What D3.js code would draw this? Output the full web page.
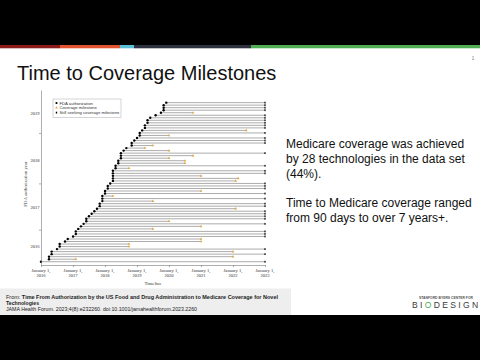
<!DOCTYPE html>
<html><head><meta charset="utf-8">
<script src="https://cdn.jsdelivr.net/npm/d3@7"></script>
<style>
html,body{margin:0;padding:0;background:#fff;}
svg{display:block;}
</style></head>
<body>
<svg id="c" width="480" height="360"></svg>
<script>
// ---- data (rows from top = latest authorization to bottom = earliest) ----
const authDates = [
"2019-12","2019-11","2019-11","2019-11","2019-10","2019-08","2019-06","2019-05","2019-05","2019-04",
"2019-04","2019-03","2019-02","2019-02","2019-01","2018-12","2018-11","2018-11","2018-09","2018-08",
"2018-07","2018-07","2018-07","2018-06","2018-06","2018-05","2018-05","2018-04","2018-04","2018-04",
"2018-04","2018-04","2018-03","2018-02","2018-02","2018-01","2018-01","2017-12","2017-12","2017-12",
"2017-11","2017-11","2017-10","2017-09","2017-08","2017-07","2017-06","2017-06","2017-05","2017-04",
"2017-03","2017-02","2017-02","2017-01","2016-11","2016-10","2016-08","2016-08","2016-07","2016-05",
"2016-05","2016-04","2016-04","2016-01"];
const coverageDates = [
null,null,null,null,"2020-10",null,null,null,null,null,
null,"2022-06",null,"2020-01",null,null,null,"2019-07","2019-04","2020-01",
null,"2020-10","2020-01","2020-07","2020-07",null,"2018-10",null,null,"2021-01",
"2022-03","2022-02",null,null,null,"2021-01",null,"2018-04",null,"2019-07",
null,null,"2022-02",null,null,null,null,"2020-01",null,"2021-01",
"2019-07",null,null,null,"2021-01","2021-01","2018-10","2018-10",null,"2022-01",
null,"2022-01","2017-02",null];
const xTickYears = [2016,2017,2018,2019,2020,2021,2022,2023];
const yearLabels = ["2019","2018","2017","2016"];
const yearLabelRows = [4.2, 23, 41.6, 57];     // row positions of the year labels
const yearBoundaryRows = [12, 32, 50.3];        // row positions of the y ticks
const legendItems = ["FDA authorization","Coverage milestone","Still seeking coverage milestone"];
const endDate = "2023-01";

// ---- slide ----
const svg = d3.select("#c");
const sans = "'Liberation Sans', Arial, sans-serif";
const serif = "'Liberation Serif', 'Times New Roman', serif";

svg.append("rect").attr("x",0).attr("y",0).attr("width",480).attr("height",45).attr("fill","#000");
const stripe = [[0,60,"#8c1c1c"],[60,120,"#e2532f"],[120,134,"#5bbfd6"],[134,251,"#2e3240"],[251,480,"#4fad55"]];
stripe.forEach(s=>svg.append("rect").attr("x",s[0]).attr("y",45).attr("width",s[1]-s[0]).attr("height",3.3).attr("fill",s[2]));
svg.append("rect").attr("x",0).attr("y",315).attr("width",480).attr("height",45).attr("fill","#000");

svg.append("text").attr("x",473).attr("y",60).attr("font-family",sans).attr("font-size",4.5).attr("fill","#777").attr("text-anchor","middle").text("1");
svg.append("text").attr("x",17).attr("y",80).attr("font-family",sans).attr("font-size",20).attr("fill","#111").text("Time to Coverage Milestones");

// right text
const para = [["Medicare coverage was achieved",143.5],["by 28 technologies in the data set",158.5],["(44%).",173.5],
              ["Time to Medicare coverage ranged",202.5],["from 90 days to over 7 years+.",217.5]];
para.forEach(p=>svg.append("text").attr("x",286).attr("y",p[1]+4.3).attr("font-family",sans).attr("font-size",12).attr("fill","#111").text(p[0]));

// citation box
svg.append("rect").attr("x",0).attr("y",288.5).attr("width",291).attr("height",26.5).attr("fill","#eeeeee");
const c1 = svg.append("text").attr("x",6).attr("y",299).attr("font-family",sans).attr("font-size",5.2).attr("fill","#222");
c1.append("tspan").text("From: ");
c1.append("tspan").attr("font-weight","bold").text("Time From Authorization by the US Food and Drug Administration to Medicare Coverage for Novel");
c1.attr("textLength",272).attr("lengthAdjust","spacingAndGlyphs");
svg.append("text").attr("x",6).attr("y",304.5).attr("font-family",sans).attr("font-size",5.2).attr("font-weight","bold").attr("fill","#222").text("Technologies");
svg.append("text").attr("x",6).attr("y",311).attr("font-family",sans).attr("font-size",5.2).attr("fill","#222")
  .attr("textLength",191).attr("lengthAdjust","spacingAndGlyphs")
  .text("JAMA Health Forum. 2023;4(8):e232260. doi:10.1001/jamahealthforum.2023.2260");

// logo
svg.append("text").attr("x",473).attr("y",299).attr("text-anchor","end").attr("font-family",sans).attr("font-size",2.8).attr("font-weight","bold").attr("fill","#555")
  .attr("textLength",54).attr("lengthAdjust","spacingAndGlyphs").text("STANFORD BYERS CENTER FOR");
const logo = svg.append("text").attr("x",412).attr("y",308).attr("font-family",sans).attr("font-size",8.6).attr("fill","#3a3a3a")
  .attr("letter-spacing",2.3);
logo.append("tspan").text("BI");
logo.append("tspan").attr("fill","#4fad55").text("O");
logo.append("tspan").text("DESIGN");

// ---- chart ----
const parse = d3.timeParse("%Y-%m");
const x = d3.scaleTime().domain([new Date(2016,0,1), new Date(2023,0,1)]).range([41,265]);
const yRow = d3.scaleLinear().domain([-5, 64.3]).range([90, 265]);

const rows = authDates.map((a,i)=>({i, auth: parse(a), cov: coverageDates[i] ? parse(coverageDates[i]) : null}));
const end = parse(endDate);
const g = svg.append("g");

g.selectAll("line.seg").data(rows).join("line").attr("class","seg")
  .attr("x1",d=>x(d.auth)).attr("x2",d=>x(d.cov||end))
  .attr("y1",d=>yRow(d.i)).attr("y2",d=>yRow(d.i))
  .attr("stroke","#a8a8a8").attr("stroke-width",0.95);

g.selectAll("path.cov").data(rows.filter(d=>d.cov)).join("path").attr("class","cov")
  .attr("d",d3.symbol(d3.symbolTriangle,3.2))
  .attr("transform",d=>`translate(${x(d.cov)},${yRow(d.i)})`)
  .attr("fill","#e2a546");
g.selectAll("rect.end").data(rows.filter(d=>!d.cov)).join("rect").attr("class","end")
  .attr("x",x(end)-0.7).attr("y",d=>yRow(d.i)-0.9).attr("width",1.4).attr("height",1.8).attr("fill","#222");
g.selectAll("circle.auth").data(rows).join("circle").attr("class","auth")
  .attr("cx",d=>x(d.auth)).attr("cy",d=>yRow(d.i)).attr("r",1.2).attr("fill","#000");

// x axis
const xa = svg.append("g").attr("transform","translate(0,265)")
  .call(d3.axisBottom(x).tickValues(xTickYears.map(yv=>new Date(yv,0,1))).tickSize(2).tickSizeOuter(0).tickFormat(""));
xa.selectAll("path,line").attr("stroke","#777").attr("stroke-width",0.6);
const xl = svg.append("g").selectAll("text").data(xTickYears).join("text")
  .attr("x",d=>x(new Date(d,0,1))).attr("y",271.5).attr("text-anchor","middle")
  .attr("font-family",serif).attr("font-size",4.6).attr("fill","#333");
xl.append("tspan").text("January 1,");
xl.append("tspan").attr("x",d=>x(new Date(d,0,1))).attr("dy",5).text(d=>d);
svg.append("text").attr("x",153).attr("y",285).attr("text-anchor","middle").attr("font-family",serif).attr("font-size",4.8).attr("fill","#333").text("Timeline");

// y axis
const ya = svg.append("g").attr("transform","translate(41,0)")
  .call(d3.axisLeft(yRow).tickValues(yearBoundaryRows).tickSize(2).tickSizeOuter(0).tickFormat(""));
ya.selectAll("path,line").attr("stroke","#777").attr("stroke-width",0.6);
svg.append("g").selectAll("text").data(yearLabels).join("text")
  .attr("x",35).attr("y",(d,i)=>yRow(yearLabelRows[i])+1.6).attr("text-anchor","middle")
  .attr("font-family",serif).attr("font-size",4.6).attr("fill","#333").text(d=>d);
svg.append("text").attr("transform","translate(26.5,184) rotate(-90)").attr("text-anchor","middle")
  .attr("font-family",serif).attr("font-size",4.8).attr("fill","#333").text("FDA authorization year");

// legend
const lg = svg.append("g");
lg.append("rect").attr("x",53).attr("y",99).attr("width",68).attr("height",18.5).attr("fill","#fff").attr("stroke","#aaa").attr("stroke-width",0.5);
legendItems.forEach((t,i)=>{
  const ly = 103 + i*4.8;
  if(i===0) lg.append("circle").attr("cx",56.5).attr("cy",ly).attr("r",1.1).attr("fill","#000");
  if(i===1) lg.append("path").attr("d",d3.symbol(d3.symbolTriangle,3)).attr("transform",`translate(56.5,${ly})`).attr("fill","#e2a546");
  if(i===2) lg.append("rect").attr("x",55.8).attr("y",ly-0.9).attr("width",1.4).attr("height",1.8).attr("fill","#000");
  lg.append("text").attr("x",59.5).attr("y",ly+1.5).attr("font-family",sans).attr("font-size",4.2).attr("fill","#333").text(t);
});
</script>
</body></html>
